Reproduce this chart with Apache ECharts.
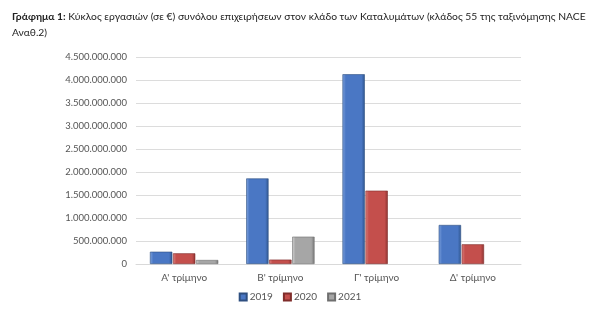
<!DOCTYPE html>
<html>
<head>
<meta charset="utf-8">
<script src="https://cdn.jsdelivr.net/npm/echarts@6/dist/echarts.min.js"></script>
<style>
  html, body { margin: 0; padding: 0; background: #fff; }
  #chart { width: 600px; height: 317px; }
</style>
</head>
<body>
<div id="chart"></div>
<script>
// τρίμηνα
var quarters = ["Α' τρίμηνο", "Β' τρίμηνο", "Γ' τρίμηνο", "Δ' τρίμηνο"];
var years = ['2019', '2020', '2021'];
var values2019 = [267000000, 1860000000, 4125000000, 848000000];
var values2020 = [232000000, 95000000, 1594000000, 428000000];
var values2021 = [87000000, 594000000, null, null];
var yTicks = [0, 500000000, 1000000000, 1500000000, 2000000000, 2500000000, 3000000000, 3500000000, 4000000000, 4500000000];

var colors = ['#4a77c4', '#c44f4c', '#a6a6a6'];

function bevel(base, light, dark) {
    return new echarts.graphic.LinearGradient(0, 0, 1, 0, [
        { offset: 0, color: light },
        { offset: 0.15, color: base },
        { offset: 0.85, color: base },
        { offset: 1, color: dark }
    ]);
}

function fmt(v) {
    return String(v).replace(/\B(?=(\d{3})+(?!\d))/g, '.');
}

var chart = echarts.init(document.getElementById('chart'));
var font = 'Lato, "Open Sans", sans-serif';

var option = {
    animation: false,
    title: {
        left: 7,
        top: 4,
        text: '{b|Γράφημα 1:} Κύκλος εργασιών (σε €) συνόλου επιχειρήσεων στον κλάδο των Καταλυμάτων (κλάδος 55 της ταξινόμησης NACE\nΑναθ.2)',
        textStyle: {
            fontFamily: font,
            fontSize: 10.3,
            fontWeight: 'normal',
            color: '#222',
            lineHeight: 16,
            rich: {
                b: { fontFamily: font, fontSize: 10.3, fontWeight: 'bold', color: '#222', lineHeight: 16 }
            }
        }
    },
    legend: {
        bottom: 10,
        left: 'center',
        itemWidth: 7,
        itemHeight: 7,
        itemGap: 10,
        icon: 'rect',
        textStyle: { fontFamily: font, fontSize: 10, color: '#555', padding: [0, 0, 0, -2] },
        data: years
    },
    grid: {
        left: 136,
        right: 79,
        top: 57,
        bottom: 53
    },
    xAxis: {
        type: 'category',
        data: quarters,
        axisTick: { show: false },
        axisLine: { lineStyle: { color: '#d9d9d9' } },
        axisLabel: { fontFamily: font, fontSize: 10, color: '#555', margin: 9 }
    },
    yAxis: {
        type: 'value',
        min: 0,
        max: yTicks[yTicks.length - 1],
        interval: yTicks[1] - yTicks[0],
        axisLine: { show: false },
        axisTick: { show: false },
        splitLine: { lineStyle: { color: '#dcdcdc' } },
        axisLabel: {
            fontFamily: font,
            fontSize: 9.5,
            color: '#555',
            margin: 9,
            formatter: fmt
        }
    },
    series: [
        {
            name: years[0],
            type: 'bar',
            data: values2019,
            barGap: '3%',
            barCategoryGap: '29%',
            itemStyle: { color: bevel(colors[0], '#7ea2dd', '#2f568f'), borderColor: '#2e4f80', borderWidth: 0.6 }
        },
        {
            name: years[1],
            type: 'bar',
            data: values2020,
            itemStyle: { color: bevel(colors[1], '#dd807d', '#8e3432'), borderColor: '#7f2d2b', borderWidth: 0.6 }
        },
        {
            name: years[2],
            type: 'bar',
            data: values2021,
            itemStyle: { color: bevel(colors[2], '#cfcfcf', '#777777'), borderColor: '#6f6f6f', borderWidth: 0.6 }
        }
    ]
};

chart.setOption(option);
</script>
</body>
</html>
